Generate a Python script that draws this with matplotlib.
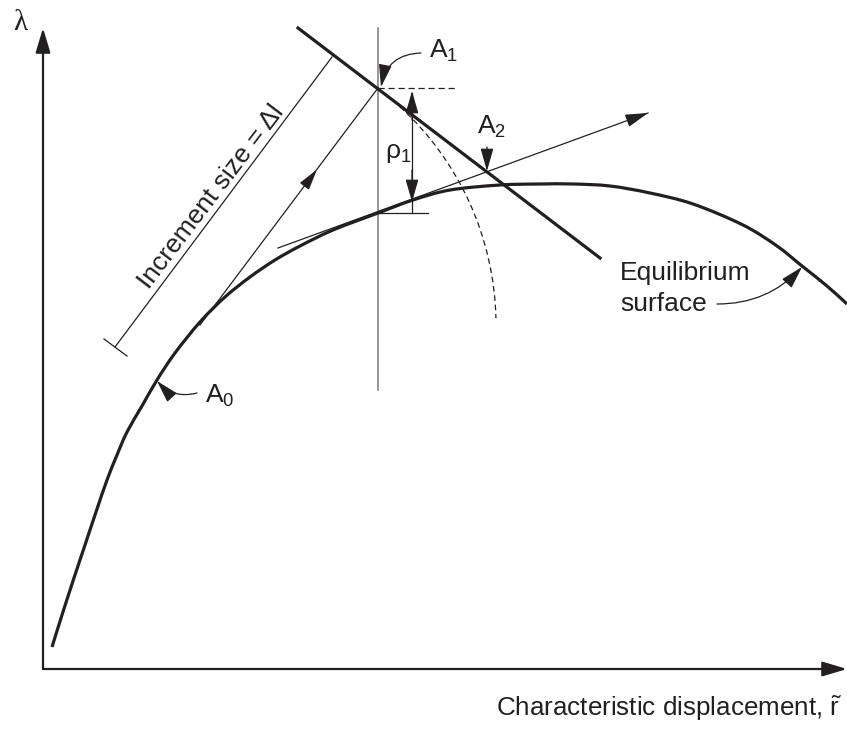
import numpy as np
import matplotlib
matplotlib.use("Agg")
import matplotlib.pyplot as plt
from matplotlib.patches import FancyArrowPatch, Arc, PathPatch
from matplotlib.path import Path

plt.rcParams['font.family'] = ['Liberation Sans', 'DejaVu Sans']
plt.rcParams['mathtext.fontset'] = 'custom'
plt.rcParams['mathtext.rm'] = 'Liberation Sans'
plt.rcParams['mathtext.it'] = 'Liberation Sans:italic'

INK = '#231f20'

# Equilibrium path (load factor vs. characteristic displacement), drawing units
curve_x = [52, 62, 73, 85, 96, 107, 117, 127, 142, 157, 175, 200, 225, 250,
           275, 300, 333, 378, 413, 450, 500, 540, 573, 610, 650, 693, 743,
           777, 802, 827, 847]
curve_y = [647, 615, 581, 545, 512, 480, 455, 432, 406, 380, 353, 322, 297,
           277, 260, 246, 230, 213, 200, 190, 185, 184, 184, 186, 193, 204,
           225, 246, 266, 286, 304]

# Constraint line (arc-length plane) through A1 and A2
constraint_x = [298, 600]
constraint_y = [28, 258]

# Key points of the increment
A0 = (157, 381)
A1 = (378, 88)
A2 = (487, 172)
predictor_start = (200, 325)
tangent2_start = (278, 248)
tangent2_end = (648, 113)
rho_x = 412
rho_top = 88
rho_bottom = 213
increment_radius = 296

fig = plt.figure(figsize=(8.47, 7.29), dpi=100)
ax = fig.add_axes([0, 0, 1, 1])
ax.set_xlim(0, 847)
ax.set_ylim(729, 0)
ax.axis('off')


def arrow(p0, p1, lw=1.0, hl=1.4, hw=0.45, ms=10, color=INK, z=3, cs=None):
    kw = {}
    if cs is not None:
        kw['connectionstyle'] = cs
    a = FancyArrowPatch(p0, p1, arrowstyle=f'-|>,head_length={hl},head_width={hw}',
                        mutation_scale=ms, lw=lw, color=color, shrinkA=0, shrinkB=0,
                        zorder=z, **kw)
    ax.add_patch(a)


def smooth_path(xs, ys):
    # Catmull-Rom through the points, expressed as cubic Bezier segments
    pts = np.column_stack([xs, ys]).astype(float)
    verts = [pts[0]]
    codes = [Path.MOVETO]
    n = len(pts)
    for i in range(n - 1):
        p0 = pts[i - 1] if i > 0 else pts[i]
        p1, p2 = pts[i], pts[i + 1]
        p3 = pts[i + 2] if i + 2 < n else pts[i + 1]
        c1 = p1 + (p2 - p0) / 6.0
        c2 = p2 - (p3 - p1) / 6.0
        verts += [c1, c2, p2]
        codes += [Path.CURVE4] * 3
    return Path(verts, codes)


# Axes with arrowheads
arrow((43, 669), (43, 28), lw=1.6, hl=1.5, hw=0.45, ms=10)
arrow((43, 669), (847, 669), lw=1.6, hl=1.5, hw=0.45, ms=10)
ax.text(20, 23, 'λ', family=['Liberation Serif', 'DejaVu Serif'], fontsize=21,
        color=INK, ha='center', va='center')
ax.text(842, 708, 'Characteristic displacement, $\\tilde{\\mathregular{r}}$',
        fontsize=18.7, color=INK, ha='right', va='center')

# Equilibrium path
ax.add_patch(PathPatch(smooth_path(curve_x, curve_y), facecolor='none',
                       edgecolor=INK, lw=2.3, zorder=4))

# Constraint line
ax.plot(constraint_x, constraint_y, color=INK, lw=2.3, zorder=4)

# Vertical reference through A1
ax.plot([A1[0], A1[0]], [28, 390], color='#7a7a7a', lw=1.1, zorder=2)

# Predictor step from A0 to A1
ax.plot([predictor_start[0], A1[0]], [predictor_start[1], A1[1]], color=INK, lw=0.9, zorder=3)
mid = ((predictor_start[0] + A1[0]) / 2 + 28, (predictor_start[1] + A1[1]) / 2 - 37)
arrow((mid[0] - 6, mid[1] + 8), mid, lw=0.9, hl=1.3, hw=0.35, ms=10)

# Increment size dimension line
ax.plot([115, 332], [347, 57], color=INK, lw=0.9)
ax.plot([104, 127], [339, 356], color=INK, lw=0.9)
ax.text(211, 197, 'Increment size = Δl', fontsize=19, color=INK, rotation=52.7,
        rotation_mode='anchor', ha='center', va='center')

# Dashed arc of radius equal to the increment
arc = Arc(predictor_start, 2 * increment_radius, 2 * increment_radius,
          theta1=-47.5, theta2=-1.3, color=INK, lw=0.9, ls=(0, (4.5, 3)), zorder=2)
ax.add_patch(arc)

# Dashed level of A1 and the rho dimension
ax.plot([A1[0], 458], [A1[1], A1[1]], color=INK, lw=0.9, ls=(0, (5, 3)))
ax.plot([A1[0], 428], [rho_bottom, rho_bottom], color=INK, lw=0.9)
ax.plot([rho_x, rho_x], [rho_top + 5, rho_bottom], color=INK, lw=0.9)
arrow((rho_x, 120), (rho_x, rho_top + 3), lw=0.9, hl=1.4, hw=0.4, ms=10)
arrow((rho_x, 170), (rho_x, 202), lw=0.9, hl=1.4, hw=0.4, ms=10)
ax.text(385, 153, 'ρ$_{\\mathregular{1}}$', fontsize=19, color=INK, ha='left', va='center')

# Tangent at the corrected point, with arrow
ax.plot([tangent2_start[0], tangent2_end[0]], [tangent2_start[1], tangent2_end[1]],
        color=INK, lw=0.9, zorder=3)
arrow((tangent2_end[0] - 20, tangent2_end[1] + 7.3), tangent2_end, lw=0.9, hl=1.4, hw=0.4, ms=10)

# Point labels with leaders
ax.text(429, 51, 'A$_{\\mathregular{1}}$', fontsize=19, color=INK, ha='left', va='center')
arrow((421, 53), (381, 87), lw=0.9, hl=1.4, hw=0.4, ms=10, cs='arc3,rad=0.4')

ax.text(477, 127, 'A$_{\\mathregular{2}}$', fontsize=19, color=INK, ha='left', va='center')
arrow((A2[0], 147), (A2[0], A2[1] - 1), lw=0.9, hl=1.4, hw=0.4, ms=10)

ax.text(205, 396, 'A$_{\\mathregular{0}}$', fontsize=19, color=INK, ha='left', va='center')
arrow((197, 393), A0, lw=0.9, hl=1.4, hw=0.4, ms=10, cs='arc3,rad=-0.3')

ax.text(620, 280, 'Equilibrium', fontsize=19, color=INK, ha='left', va='baseline')
ax.text(620, 311, 'surface', fontsize=19, color=INK, ha='left', va='baseline')
arrow((717, 304), (802, 267), lw=0.9, hl=1.4, hw=0.4, ms=10, cs='arc3,rad=0.22')

fig.savefig('out.png', dpi=100, facecolor='white')
